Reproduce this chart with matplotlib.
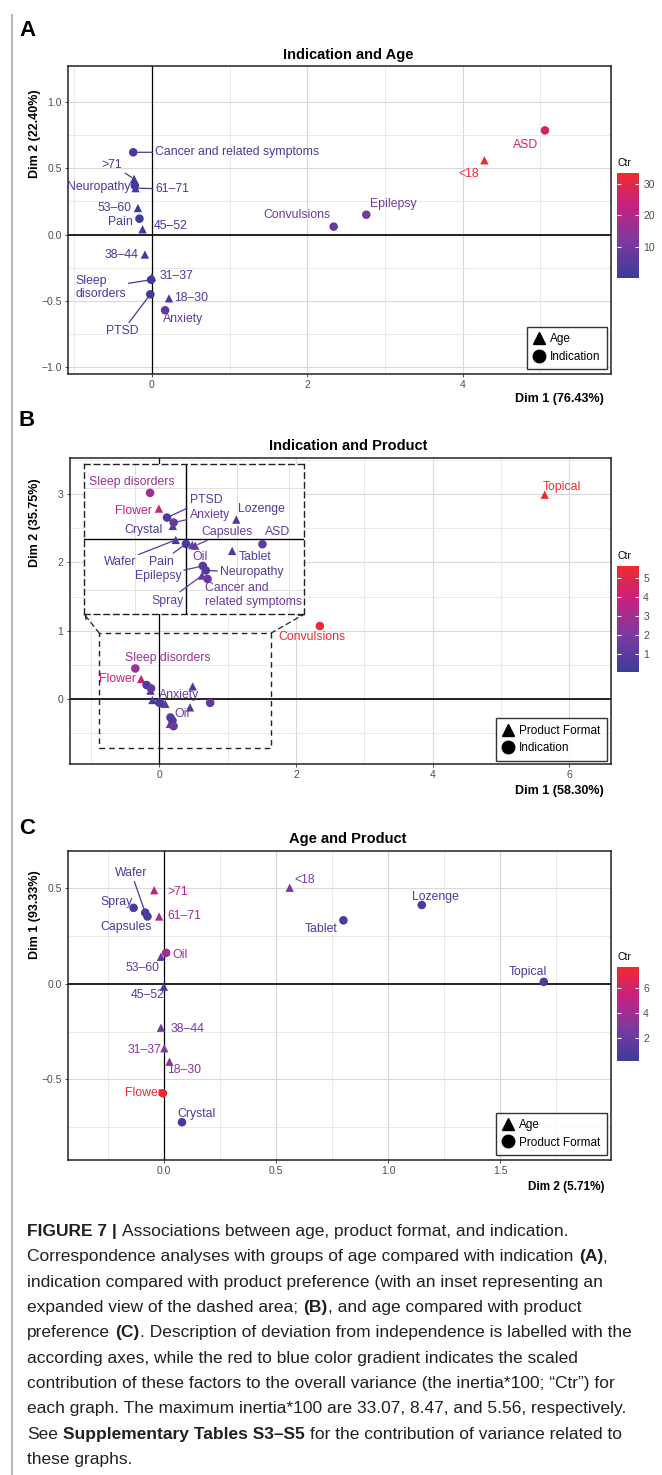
import numpy as np
import matplotlib
matplotlib.use("Agg")
import matplotlib.pyplot as plt
from matplotlib.colors import LinearSegmentedColormap, Normalize
from matplotlib.cm import ScalarMappable
from matplotlib.lines import Line2D
from matplotlib.patches import Rectangle, ConnectionPatch

plt.rcParams['font.family'] = ['Liberation Sans', 'DejaVu Sans']

W, H = 662, 1475

# ---------------- data ----------------
# A: indication and age
a_names = ['ASD', '<18', 'Cancer and related symptoms', '>71', 'Neuropathy', '61–71',
           '53–60', 'Pain', '45–52', '38–44', '31–37', 'Sleep disorders', 'PTSD',
           '18–30', 'Anxiety', 'Convulsions', 'Epilepsy']
a_group = ['Indication', 'Age', 'Indication', 'Age', 'Indication', 'Age',
           'Age', 'Indication', 'Age', 'Age', 'Age', 'Indication', 'Indication',
           'Age', 'Indication', 'Indication', 'Indication']
a_dim1 = [5.06, 4.28, -0.24, -0.23, -0.22, -0.21, -0.18, -0.16, -0.12, -0.09,
          0.00, -0.01, -0.02, 0.22, 0.17, 2.34, 2.76]
a_dim2 = [0.785, 0.56, 0.62, 0.42, 0.37, 0.35, 0.20, 0.12, 0.04, -0.15,
          -0.32, -0.34, -0.45, -0.48, -0.57, 0.06, 0.15]
a_ctr = [26.0, 33.07, 2.0, 1.5, 1.2, 1.5, 0.8, 0.6, 0.3, 0.7,
         1.5, 1.0, 1.0, 3.5, 7.0, 8.0, 10.0]

# B: indication and product
b_names = ['Sleep disorders', 'Flower', 'PTSD', 'Anxiety', 'Crystal', 'Wafer', 'Pain',
           'Oil', 'Capsules', 'Lozenge', 'Tablet', 'ASD', 'Epilepsy', 'Neuropathy',
           'Spray', 'Cancer and related symptoms', 'Convulsions', 'Topical']
b_group = ['Indication', 'Product Format', 'Indication', 'Indication', 'Product Format',
           'Product Format', 'Indication', 'Product Format', 'Product Format',
           'Product Format', 'Product Format', 'Indication', 'Indication', 'Indication',
           'Product Format', 'Indication', 'Indication', 'Product Format']
b_dim1 = [-0.35, -0.264, -0.185, -0.12, -0.128, -0.10, 0.0, 0.061, 0.09, 0.49,
          0.45, 0.745, 0.164, 0.193, 0.156, 0.21, 2.35, 5.64]
b_dim2 = [0.45, 0.296, 0.208, 0.159, 0.126, -0.011, -0.05, -0.06, -0.067, 0.188,
          -0.119, -0.053, -0.266, -0.31, -0.36, -0.393, 1.07, 2.99]
b_ctr = [2.8, 4.1, 0.6, 1.4, 0.5, 0.5, 0.4, 1.5, 1.3, 0.5,
         0.5, 1.2, 0.9, 0.7, 1.3, 1.4, 5.4, 5.6]

# C: age and product
c_names = ['Wafer', 'Capsules', 'Spray', '>71', '61–71', '<18', 'Lozenge', 'Tablet',
           'Oil', '53–60', 'Topical', '45–52', '38–44', '31–37', '18–30', 'Flower',
           'Crystal']
c_group = ['Product Format', 'Product Format', 'Product Format', 'Age', 'Age', 'Age',
           'Product Format', 'Product Format', 'Product Format', 'Age', 'Product Format',
           'Age', 'Age', 'Age', 'Age', 'Product Format', 'Product Format']
c_dim2 = [-0.085, -0.075, -0.137, -0.045, -0.023, 0.56, 1.15, 0.80, 0.008, -0.015,
          1.695, -0.002, -0.015, 0.0, 0.023, -0.006, 0.079]
c_dim1 = [0.37, 0.35, 0.395, 0.487, 0.35, 0.50, 0.41, 0.33, 0.16, 0.14,
          0.009, -0.016, -0.23, -0.337, -0.407, -0.572, -0.723]
c_ctr = [0.6, 0.6, 0.7, 4.8, 4.2, 2.6, 0.7, 0.6, 3.8, 1.5,
         0.8, 0.8, 2.4, 3.0, 3.2, 7.5, 0.5]

caption = [
    [("FIGURE 7 |", True), (" Associations between age, product format, and indication.", False)],
    [("Correspondence analyses with groups of age compared with indication ", False), ("(A)", True), (",", False)],
    [("indication compared with product preference (with an inset representing an", False)],
    [("expanded view of the dashed area; ", False), ("(B)", True), (", and age compared with product", False)],
    [("preference ", False), ("(C)", True), (". Description of deviation from independence is labelled with the", False)],
    [("according axes, while the red to blue color gradient indicates the scaled", False)],
    [("contribution of these factors to the overall variance (the inertia*100; “Ctr”) for", False)],
    [("each graph. The maximum inertia*100 are 33.07, 8.47, and 5.56, respectively.", False)],
    [("See ", False), ("Supplementary Tables S3–S5", True), (" for the contribution of variance related to", False)],
    [("these graphs.", False)],
]

# label placement (pixels: dx right, dy down, alignment, leader line, shown text)
a_offsets = {
    'ASD': (-19, 15, 'center', False), '<18': (-16, 14, 'center', False),
    'Cancer and related symptoms': (22, 0, 'left', True),
    '>71': (-22, -14, 'center', True), 'Neuropathy': (-4, 2, 'right', False),
    '61–71': (20, 1, 'left', True), '53–60': (-6, 0, 'right', False),
    'Pain': (-7, 3, 'right', False), '45–52': (11, -3, 'left', False),
    '38–44': (-6, 0, 'right', False), '31–37': (8, -1, 'left', False),
    'Sleep disorders': (-76, 8, 'left', True, 'Sleep\ndisorders'),
    'PTSD': (-28, 37, 'center', True), '18–30': (5, 0, 'left', False),
    'Anxiety': (18, 9, 'center', False), 'Convulsions': (-37, -12, 'center', False),
    'Epilepsy': (27, -11, 'center', False),
}
b_offsets = {
    'Sleep disorders': (32, -10, 'center', False), 'Flower': (-5, 0, 'right', False),
    'Anxiety': (28, 7, 'center', False), 'Oil': (19, 11, 'center', False),
    'Convulsions': (-8, 11, 'center', False), 'Topical': (17, -8, 'center', False),
}
inset_offsets = {
    'Sleep disorders': (-18, -11, 'center', False), 'Flower': (-7, 2, 'right', False),
    'PTSD': (39, -18, 'center', True), 'Anxiety': (36, -8, 'center', True),
    'Crystal': (-29, 4, 'center', False), 'Lozenge': (25, -11, 'center', False),
    'Capsules': (32, -14, 'center', True), 'ASD': (15, -12, 'center', False),
    'Wafer': (-56, 22, 'center', True), 'Pain': (-25, 18, 'center', True),
    'Oil': (8, 12, 'center', False), 'Tablet': (23, 6, 'center', False),
    'Epilepsy': (-45, 10, 'center', True), 'Neuropathy': (46, 2, 'center', True),
    'Cancer and related symptoms': (-3, 16, 'left', False, 'Cancer and\nrelated symptoms'),
    'Spray': (-34, 25, 'center', True),
}
c_offsets = {
    'Wafer': (-14, -40, 'center', True), 'Spray': (-17, -6, 'center', False),
    'Capsules': (-21, 11, 'center', False), '>71': (23, 2, 'center', False),
    '61–71': (25, 0, 'center', False), '<18': (15, -8, 'center', False),
    'Lozenge': (14, -8, 'center', False), 'Tablet': (-22, 9, 'center', False),
    'Oil': (14, 2, 'center', False), '53–60': (-18, 11, 'center', False),
    'Topical': (-16, -10, 'center', False), '45–52': (-16, 8, 'center', False),
    '38–44': (10, 1, 'left', False), '31–37': (-3, 2, 'right', False),
    '18–30': (15, 8, 'center', False), 'Flower': (-1, 0, 'right', False),
    'Crystal': (15, -8, 'center', False),
}

ctr_cmap = LinearSegmentedColormap.from_list(
    'ctr', [(0, '#3C3B9B'), (0.35, '#7C3AA0'), (0.7, '#C8207F'), (1, '#EE2B2B')])

fig = plt.figure(figsize=(W / 100, H / 100), dpi=100)


def fx(x):
    return x / W


def fy(y):
    return 1 - y / H


def px_rect(l, t, r, b):
    return [l / W, 1 - b / H, (r - l) / W, (b - t) / H]


def style_axes(ax, xlim, ylim, xmaj, xmin, ymaj, ymin):
    ax.set_xlim(xlim)
    ax.set_ylim(ylim)
    ax.set_xticks(xmaj)
    ax.set_xticks(xmin, minor=True)
    ax.set_yticks(ymaj)
    ax.set_yticks(ymin, minor=True)
    ax.grid(which='major', color='#DADADA', lw=0.8)
    ax.grid(which='minor', color='#E6E6E6', lw=0.6)
    ax.set_axisbelow(True)
    ax.axhline(0, color='#222222', lw=1.4, zorder=2)
    ax.axvline(0, color='black', lw=0.9, zorder=2)
    for s in ax.spines.values():
        s.set_color('#222222')
        s.set_linewidth(1.1)
    ax.tick_params(which='major', length=2.5, width=0.6, color='#333333',
                   labelsize=7.5, labelcolor='#4D4D4D', pad=2)
    ax.tick_params(which='minor', length=0)


def draw_points(ax, names, groups, d1, d2, ctr, norm, tri_group, offsets, fs=8.8):
    x = np.array(d1)
    y = np.array(d2)
    c = np.array(ctr)
    tri = np.array(groups) == tri_group
    ax.scatter(x[tri], y[tri], c=c[tri], cmap=ctr_cmap, norm=norm, marker='^', s=36, lw=0, zorder=4)
    ax.scatter(x[~tri], y[~tri], c=c[~tri], cmap=ctr_cmap, norm=norm, marker='o', s=38, lw=0, zorder=4)
    for i, name in enumerate(names):
        if name not in offsets:
            continue
        o = offsets[name]
        dx, dy, ha, seg = o[:4]
        text = o[4] if len(o) > 4 else name
        col = ctr_cmap(norm(c[i]))
        props = dict(arrowstyle='-', color=col, lw=0.9, shrinkA=0, shrinkB=2) if seg else None
        ax.annotate(text, (x[i], y[i]), xytext=(dx, -dy), textcoords='offset pixels',
                    ha=ha, va='center', fontsize=fs, color=col, arrowprops=props,
                    zorder=5, annotation_clip=False, linespacing=1.15)


def add_legend(ax, tri_label, dot_label, right_px, bottom_px):
    handles = [Line2D([], [], marker='^', color='black', ls='none', ms=9),
               Line2D([], [], marker='o', color='black', ls='none', ms=9)]
    leg = ax.legend(handles, [tri_label, dot_label], loc='lower right',
                    bbox_to_anchor=(fx(right_px), fy(bottom_px)), bbox_transform=fig.transFigure,
                    frameon=True, fancybox=False, edgecolor='black', fontsize=8.5,
                    handlelength=1.0, handletextpad=0.4, borderpad=0.55, labelspacing=0.45,
                    borderaxespad=0)
    leg.get_frame().set_linewidth(1.0)
    leg.set_zorder(10)


def add_cbar(norm, rect, ticks, ctr_y):
    cax = fig.add_axes(px_rect(*rect))
    cb = fig.colorbar(ScalarMappable(norm=norm, cmap=ctr_cmap), cax=cax, ticks=ticks)
    cb.outline.set_visible(False)
    cax.yaxis.set_ticks_position('both')
    cax.tick_params(length=3, width=0.8, color='white', direction='in',
                    labelleft=False, labelright=True, labelsize=7.5, labelcolor='#4D4D4D', pad=3)
    fig.text(fx(rect[0]), fy(ctr_y), 'Ctr', fontsize=7.5, va='center', ha='left')


def panel_text(letter, letter_y, title, title_y, xlabel, xlabel_y, ylabel, ylabel_y, xl_fs=9):
    fig.text(fx(19), fy(letter_y), letter, fontsize=16, fontweight='bold', va='center', ha='left')
    fig.text(fx(348), fy(title_y), title, fontsize=10.5, fontweight='bold', va='center', ha='center')
    fig.text(fx(604), fy(xlabel_y), xlabel, fontsize=xl_fs, fontweight='bold', va='center', ha='right')
    fig.text(fx(35), fy(ylabel_y), ylabel, fontsize=9, fontweight='bold', va='center',
             ha='center', rotation=90)


# ---------------- panel A ----------------
norm_a = Normalize(0.1, 33.5)
ax_a = fig.add_axes(px_rect(68, 66, 611, 374))
style_axes(ax_a, (-1.08, 5.91), (-1.05, 1.27), [0, 2, 4], [-1, 1, 3, 5],
           [-1.0, -0.5, 0.0, 0.5, 1.0], [-0.75, -0.25, 0.25, 0.75])
draw_points(ax_a, a_names, a_group, a_dim1, a_dim2, a_ctr, norm_a, 'Age', a_offsets)
add_legend(ax_a, 'Age', 'Indication', 606.7, 369.3)
add_cbar(norm_a, (617, 173, 639, 278), [10, 20, 30], 163)
panel_text('A', 30, 'Indication and Age', 55, 'Dim 1 (76.43%)', 399, 'Dim 2 (22.40%)', 134)

# ---------------- panel B ----------------
norm_b = Normalize(0.08, 5.6)
ax_b = fig.add_axes(px_rect(69.7, 457.7, 611, 764))
style_axes(ax_b, (-1.31, 6.61), (-0.946, 3.53), [0, 2, 4, 6], [-1, 1, 3, 5],
           [0, 1, 2, 3], [-0.5, 0.5, 1.5, 2.5, 3.5])
draw_points(ax_b, b_names, b_group, b_dim1, b_dim2, b_ctr, norm_b, 'Product Format', b_offsets)
ax_b.add_patch(Rectangle((-0.877, -0.716), 2.511, 1.681, fill=False, ls=(0, (4, 3)),
                         lw=1.0, ec='#222222', zorder=3))
add_legend(ax_b, 'Product Format', 'Indication', 606.7, 760.7)
add_cbar(norm_b, (617, 566, 639, 672), [1, 2, 3, 4, 5], 556)
panel_text('B', 420, 'Indication and Product', 446, 'Dim 1 (58.30%)', 791, 'Dim 2 (35.75%)', 523)

ax_in = fig.add_axes(px_rect(84.4, 464.3, 304, 614.3))
ax_in.set_facecolor('white')
ax_in.set_xlim(-0.99, 1.15)
ax_in.set_ylim(-0.74, 0.73)
ax_in.set_xticks([-0.5, 0.5, 1.0])
ax_in.set_yticks([-0.5, 0.5])
ax_in.grid(color='#E2E2E2', lw=0.7)
ax_in.set_axisbelow(True)
ax_in.tick_params(length=0, labelbottom=False, labelleft=False)
ax_in.axhline(0, color='black', lw=1.0, zorder=2)
ax_in.axvline(0, color='black', lw=1.0, zorder=2)
for s in ax_in.spines.values():
    s.set_linestyle((0, (4, 3)))
    s.set_linewidth(1.0)
    s.set_color('#222222')
draw_points(ax_in, b_names, b_group, b_dim1, b_dim2, b_ctr, norm_b, 'Product Format', inset_offsets)
for corner_in, corner_main in [((0, 0), (-0.877, 0.965)), ((1, 0), (1.634, 0.965))]:
    con = ConnectionPatch(xyA=corner_main, coordsA=ax_b.transData, xyB=corner_in,
                          coordsB=ax_in.transAxes, arrowstyle='->', ls=(0, (4, 3)),
                          lw=0.9, color='#222222', mutation_scale=7)
    fig.add_artist(con)

# ---------------- panel C ----------------
norm_c = Normalize(0.1, 7.7)
ax_c = fig.add_axes(px_rect(68, 851.3, 611, 1160))
style_axes(ax_c, (-0.43, 1.995), (-0.92, 0.69), [0.0, 0.5, 1.0, 1.5], [-0.25, 0.25, 0.75, 1.25, 1.75],
           [-0.5, 0.0, 0.5], [-0.75, -0.25, 0.25])
draw_points(ax_c, c_names, c_group, c_dim2, c_dim1, c_ctr, norm_c, 'Age', c_offsets)
add_legend(ax_c, 'Age', 'Product Format', 606.7, 1155)
add_cbar(norm_c, (617, 967, 639, 1061), [2, 4, 6], 957)
panel_text('C', 828, 'Age and Product', 839, 'Dim 2 (5.71%)', 1187, 'Dim 1 (93.33%)', 915, xl_fs=8.5)

# page border
fig.add_artist(Line2D([fx(11.7), fx(11.7)], [fy(15), 0], color='#B8B8B8', lw=1.5,
                      transform=fig.transFigure))

# ---------------- caption ----------------
renderer = fig.canvas.get_renderer()


def text_w(s, bold, fs):
    t = fig.text(0, 0, s, fontsize=fs, fontweight='bold' if bold else 'normal')
    w = t.get_window_extent(renderer).width
    t.remove()
    return w


def line_w(line, fs):
    sp = text_w('a a', False, fs) - text_w('aa', False, fs)
    total = 0
    for text, bold in line:
        core = text.strip(' ')
        total += text_w(core, bold, fs) + (len(text) - len(core)) * sp
    return total


cap_fs = 12 * 602 / max(line_w(line, 12) for line in caption)
space_w = text_w('a a', False, cap_fs) - text_w('aa', False, cap_fs)

for k, line in enumerate(caption):
    x = 27.4
    y = 1231.7 + 25.3 * k
    for text, bold in line:
        lead = len(text) - len(text.lstrip(' '))
        x += lead * space_w
        core = text.strip(' ')
        t = fig.text(fx(x), fy(y), core, fontsize=cap_fs, color='#231F20',
                     fontweight='bold' if bold else 'normal', va='center', ha='left')
        x += t.get_window_extent(renderer).width
        trail = len(text) - len(text.rstrip(' '))
        x += trail * space_w

fig.savefig('out.png', dpi=100)
